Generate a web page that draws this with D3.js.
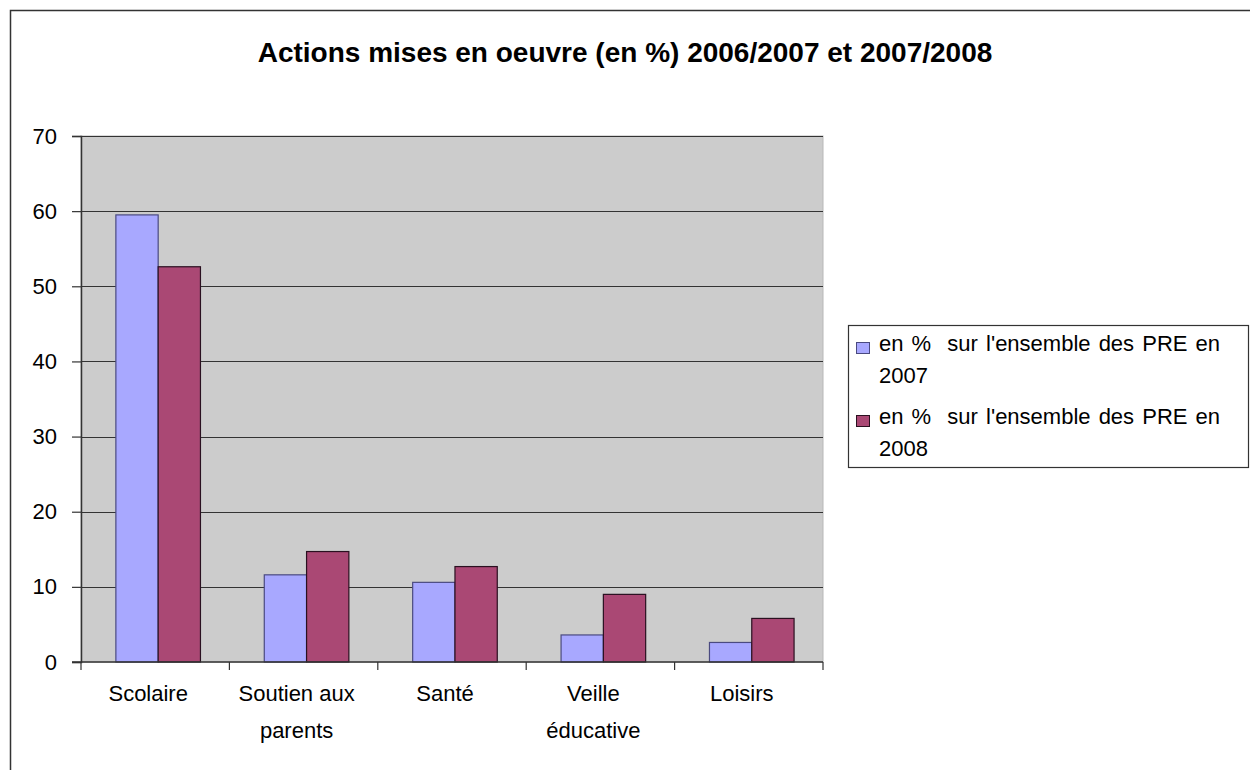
<!DOCTYPE html>
<html>
<head>
<meta charset="utf-8">
<style>
    body { margin: 0; background: #fff; }
    text { font-family: "Liberation Sans", Arial, sans-serif; fill: #000; }
    .tick text { font-size: 22px; }
</style>
<script src="https://d3js.org/d3.v7.min.js"></script>
</head>
<body>
<svg width="1250" height="770"></svg>
<script>
    // data
    var categories = ["Scolaire", "Soutien aux|parents", "Santé", "Veille|éducative", "Loisirs"];
    var series2007 = [59.5, 11.6, 10.6, 3.6, 2.6];
    var series2008 = [52.6, 14.7, 12.7, 9.0, 5.8];
    var seriesNames = ["en %  sur l'ensemble des PRE en|2007", "en %  sur l'ensemble des PRE en|2008"];
    var yTicks = [0, 10, 20, 30, 40, 50, 60, 70];
    var colors = ["#a8a8ff", "#aa4874"];

    var svg = d3.select("svg");

    // outer frame
    svg.append("rect")
        .attr("x", 10.5).attr("y", 10.5)
        .attr("width", 1260).attr("height", 780)
        .attr("fill", "none").attr("stroke", "#333").attr("stroke-width", 1.5);

    svg.append("text")
        .attr("x", 625).attr("y", 62)
        .attr("text-anchor", "middle")
        .style("font-size", "28px").style("font-weight", "bold")
        .text("Actions mises en oeuvre (en %) 2006/2007 et 2007/2008");

    var plotLeft = 81, plotRight = 823, plotTop = 136, plotBottom = 662;

    var x0 = d3.scaleBand().domain(categories).range([plotLeft, plotRight]).padding(0);
    var x1 = d3.scaleBand().domain([0, 1])
        .range([x0.bandwidth() * 0.235, x0.bandwidth() * 0.805]).padding(0);
    var y = d3.scaleLinear().domain([0, 70]).range([plotBottom, plotTop]);

    // plot background
    svg.append("rect")
        .attr("x", plotLeft).attr("y", y(70))
        .attr("width", plotRight - plotLeft).attr("height", y(0) - y(70))
        .attr("fill", "#cccccc").attr("stroke", "#b8b8b8");

    // gridlines
    svg.append("g").selectAll("line")
        .data(yTicks.filter(function (d) { return d > 0; }))
        .enter().append("line")
        .attr("x1", plotLeft).attr("x2", plotRight)
        .attr("y1", function (d) { return Math.round(y(d)) + 0.5; })
        .attr("y2", function (d) { return Math.round(y(d)) + 0.5; })
        .attr("stroke", "#333").attr("stroke-width", 1.2);

    // bars
    var groups = svg.append("g").selectAll("g")
        .data(categories)
        .enter().append("g")
        .attr("transform", function (d) { return "translate(" + x0(d) + ",0)"; });

    groups.selectAll("rect")
        .data(function (d, i) { return [series2007[i], series2008[i]]; })
        .enter().append("rect")
        .attr("x", function (d, j) { return x1(j); })
        .attr("width", x1.bandwidth())
        .attr("y", function (d) { return y(d); })
        .attr("height", function (d) { return y(0) - y(d); })
        .attr("fill", function (d, j) { return colors[j]; })
        .attr("stroke", function (d, j) { return j === 0 ? "#4a4a80" : "#2a1020"; })
        .attr("stroke-width", 1.2);

    // y axis
    var yAxis = d3.axisLeft(y).tickValues(yTicks).tickSize(9).tickPadding(15);
    var gy = svg.append("g").attr("transform", "translate(" + plotLeft + ",0)").call(yAxis);
    gy.select(".domain").attr("stroke", "#333").attr("stroke-width", 1.5);
    gy.selectAll(".tick line").attr("stroke", "#333").attr("stroke-width", 1.2);
    gy.selectAll(".tick text").attr("fill", "#000").attr("font-family", null);

    // x axis
    var gx = svg.append("g").attr("transform", "translate(0," + plotBottom + ")");
    gx.append("line")
        .attr("x1", plotLeft - 9).attr("x2", plotRight)
        .attr("stroke", "#333").attr("stroke-width", 1.5);
    gx.selectAll(".xtick")
        .data(categories.concat([null]))
        .enter().append("line")
        .attr("x1", function (d, i) { return plotLeft + i * x0.bandwidth(); })
        .attr("x2", function (d, i) { return plotLeft + i * x0.bandwidth(); })
        .attr("y1", 0).attr("y2", 8)
        .attr("stroke", "#333").attr("stroke-width", 1.2);

    gx.selectAll(".xlabel")
        .data(categories)
        .enter().append("text")
        .attr("text-anchor", "middle")
        .style("font-size", "22px")
        .each(function (d) {
            var t = d3.select(this);
            d.split("|").forEach(function (part, k) {
                t.append("tspan")
                    .attr("x", x0(d) + x0.bandwidth() / 2 - 7)
                    .attr("y", 39 + k * 37)
                    .text(part);
            });
        });

    // legend
    var legend = svg.append("g");
    legend.append("rect")
        .attr("x", 848.5).attr("y", 325.5)
        .attr("width", 400).attr("height", 142)
        .attr("fill", "#fff").attr("stroke", "#333").attr("stroke-width", 1.2);

    seriesNames.forEach(function (name, i) {
        var yy = 350 + i * 73;
        legend.append("rect")
            .attr("x", 856.5).attr("y", yy - 7.5)
            .attr("width", 13).attr("height", 11)
            .attr("fill", colors[i])
            .attr("stroke", i === 0 ? "#4a4a80" : "#2a1020");
        var t = legend.append("text").style("font-size", "22px")
            .style("white-space", "pre").style("word-spacing", "2px");
        name.split("|").forEach(function (part, k) {
            t.append("tspan")
                .attr("x", 879)
                .attr("y", yy + 1 + k * 32)
                .text(part);
        });
    });
</script>
</body>
</html>
